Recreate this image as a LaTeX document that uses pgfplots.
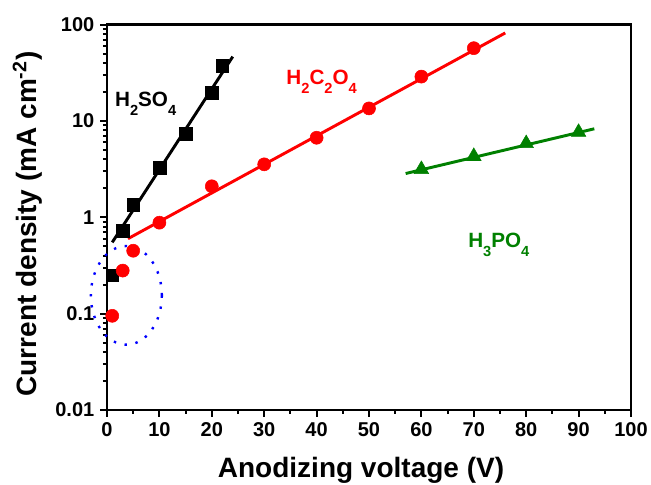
\documentclass[border=0pt]{standalone}
\usepackage{pgfplots}
\pgfplotsset{compat=1.18}
\usepackage{fontspec}
\setmainfont{Liberation Sans}
\definecolor{dgreen}{RGB}{0,128,0}
\newcommand\sub[1]{\raisebox{-0.45em}{\fontsize{11}{12}\selectfont #1}}
\begin{document}
\begin{tikzpicture}
\begin{axis}[
  scale only axis,
  width=393pt, height=289pt,
  xmin=0, xmax=100, ymin=0.01, ymax=100,
  ymode=log,
  axis line style={line width=2pt},
  xtick={0,10,...,100},
  minor x tick num=1,
  ytick={0.01,0.1,1,10,100},
  yticklabels={0.01,0.1,1,10,100},
  xtick pos=bottom, ytick pos=left,
  tick align=outside,
  major tick length=5pt, minor tick length=3pt,
  every tick/.style={line width=1.6pt, black},
  /pgf/number format/assume math mode=true,
  tick label style={font=\fontsize{15}{17}\selectfont\bfseries},
  xticklabel style={yshift=-1pt},
  yticklabel style={xshift=-1pt},
  xlabel={\fontsize{21}{24}\selectfont\bfseries Anodizing voltage (V)},
  ylabel={\fontsize{21}{24}\selectfont\bfseries Current density (mA cm\textsuperscript{-2})},
  xlabel style={yshift=-8pt, xshift=-6pt},
  ylabel style={yshift=3pt, xshift=-5pt},
  clip=false,
]
% H2SO4
\addplot[black, line width=2.2pt] coordinates {(1,0.55) (24,46.6)};
\addplot[only marks, mark=square*, mark size=4.8pt, black] coordinates {
 (1,0.25) (3,0.73) (5,1.36) (10,3.3) (15,7.4) (20,19.8) (22,37.3)};
% H2C2O4
\addplot[red, line width=2.2pt] coordinates {(4,0.6) (76,82)};
\addplot[only marks, mark=*, mark size=4.9pt, red] coordinates {
 (1,0.095) (3,0.28) (5,0.45) (10,0.88) (20,2.1) (30,3.55) (40,6.7) (50,13.5) (60,28.9) (70,57)};
% H3PO4
\addplot[dgreen, line width=2.2pt] coordinates {(57,2.85) (93,8.3)};
\addplot[only marks, mark=triangle*, mark size=6.3pt, dgreen] coordinates {
 (60,3.15) (70,4.3) (80,5.85) (90,7.65)};
% ellipse
\draw[blue, line width=1.8pt, dash pattern=on 1.8pt off 6.5pt] (axis cs:3.7,0.155) ellipse [x radius=26.6pt, y radius=37pt];
% labels
\node[anchor=base west, font=\fontsize{15.5}{17}\selectfont\bfseries, black, inner sep=0pt] at (axis cs:1.5,14.2) {H\sub{2}SO\sub{4}};
\node[anchor=base west, font=\fontsize{15.5}{17}\selectfont\bfseries, red, inner sep=0pt] at (axis cs:34.2,24.1) {H\sub{2}C\sub{2}O\sub{4}};
\node[anchor=base west, font=\fontsize{15.5}{17}\selectfont\bfseries, dgreen, inner sep=0pt] at (axis cs:68.9,0.488) {H\sub{3}PO\sub{4}};
\end{axis}
\pgfresetboundingbox
\path[use as bounding box] (-80.25pt,-56.25pt) rectangle (408pt,307.5pt);
\end{tikzpicture}
\end{document}
